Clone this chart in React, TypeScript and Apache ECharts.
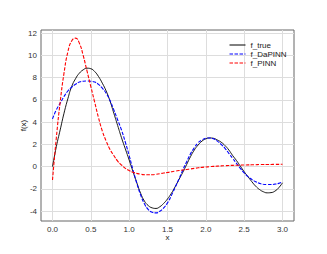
import React, { useEffect, useRef } from "react";
import * as echarts from "echarts";

const xs = [0, 0.05, 0.1, 0.15, 0.2, 0.25, 0.3, 0.35, 0.4, 0.45, 0.5, 0.55, 0.6, 0.65, 0.7, 0.75, 0.8, 0.85, 0.9, 0.95, 1.0, 1.05, 1.1, 1.15, 1.2, 1.25, 1.3, 1.35, 1.4, 1.45, 1.5, 1.55, 1.6, 1.65, 1.7, 1.75, 1.8, 1.85, 1.9, 1.95, 2.0, 2.05, 2.1, 2.15, 2.2, 2.25, 2.3, 2.35, 2.4, 2.45, 2.5, 2.55, 2.6, 2.65, 2.7, 2.75, 2.8, 2.85, 2.9, 2.95, 3.0];

const fTrue = [0, 1.8, 3.3, 4.8, 6.1, 7.2, 7.9, 8.4, 8.7, 8.85, 8.8, 8.55, 8.1, 7.5, 6.8, 5.9, 4.8, 3.7, 2.6, 1.6, 0.6, -0.45, -1.45, -2.4, -3.1, -3.5, -3.7, -3.75, -3.6, -3.3, -2.9, -2.4, -1.8, -1.15, -0.5, 0.2, 0.9, 1.5, 1.95, 2.3, 2.5, 2.58, 2.55, 2.4, 2.2, 1.9, 1.5, 1.0, 0.55, 0.05, -0.45, -0.9, -1.35, -1.75, -2.05, -2.25, -2.35, -2.33, -2.2, -1.9, -1.45];

const fDaPINN = [4.3, 5.1, 5.7, 6.3, 6.8, 7.15, 7.4, 7.6, 7.68, 7.7, 7.68, 7.6, 7.4, 7.05, 6.6, 5.95, 5.1, 4.2, 3.3, 2.2, 1.0, -0.3, -1.5, -2.55, -3.35, -3.85, -4.1, -4.15, -4.0, -3.7, -3.25, -2.6, -1.85, -1.1, -0.3, 0.45, 1.15, 1.7, 2.15, 2.4, 2.55, 2.58, 2.5, 2.3, 2.0, 1.65, 1.2, 0.75, 0.3, -0.15, -0.55, -0.9, -1.15, -1.35, -1.5, -1.58, -1.6, -1.6, -1.57, -1.5, -1.35];

const fPINN = [-1.2, 2.6, 5.8, 8.4, 10.3, 11.3, 11.55, 11.1, 10.0, 8.6, 7.2, 5.8, 4.4, 3.2, 2.3, 1.55, 1.0, 0.5, 0.15, -0.15, -0.35, -0.5, -0.6, -0.68, -0.72, -0.73, -0.72, -0.68, -0.63, -0.57, -0.52, -0.46, -0.4, -0.35, -0.3, -0.25, -0.2, -0.15, -0.1, -0.06, -0.03, 0.0, 0.03, 0.05, 0.07, 0.09, 0.11, 0.12, 0.13, 0.14, 0.15, 0.16, 0.17, 0.18, 0.19, 0.19, 0.2, 0.2, 0.21, 0.21, 0.22];

const xTicks = [0, 0.5, 1.0, 1.5, 2.0, 2.5, 3.0];
const yTicks = [-4, -2, 0, 2, 4, 6, 8, 10, 12];

const FONT = "'Liberation Sans', Arial, sans-serif";

export default function App() {
  const ref = useRef<HTMLDivElement>(null);
  useEffect(() => {
    document.body.style.margin = "0";
    const chart = echarts.init(ref.current!, null, { renderer: "svg" });
    const pair = (ys: number[]) => xs.map((x, i) => [x, ys[i]]);
    chart.setOption({
      animation: false,
      textStyle: { fontFamily: FONT },
      grid: {
        left: 41,
        top: 30,
        right: 33,
        bottom: 33,
        show: true,
        borderColor: "#666",
        borderWidth: 1,
        backgroundColor: "transparent",
      },
      legend: {
        orient: "vertical",
        left: 224,
        top: 36,
        itemWidth: 16,
        itemHeight: 8,
        itemGap: 1,
        itemStyle: { opacity: 0 },
        lineStyle: { width: 1 },
        textStyle: { fontSize: 8, color: "#222", fontFamily: FONT },
        data: ["f_true", "f_DaPINN", "f_PINN"],
      },
      xAxis: {
        type: "value",
        min: -0.15,
        max: 3.15,
        name: "x",
        nameLocation: "middle",
        nameGap: 12,
        nameMoveOverlap: false,
        nameTextStyle: { fontSize: 8, color: "#222" },
        axisLine: { show: false },
        axisTick: { show: false, customValues: xTicks },
        axisLabel: {
          customValues: xTicks,
          fontSize: 8,
          color: "#333",
          margin: 4,
          formatter: (v: number) => v.toFixed(1),
        },
        splitLine: { show: true, lineStyle: { color: "#dddddd", width: 1 } },
      },
      yAxis: {
        type: "value",
        min: -4.88,
        max: 12.28,
        name: "f(x)",
        nameLocation: "middle",
        nameGap: 14,
        nameMoveOverlap: false,
        nameTextStyle: { fontSize: 8, color: "#222" },
        axisLine: { show: false },
        axisTick: { show: false, customValues: yTicks },
        axisLabel: {
          customValues: yTicks,
          fontSize: 8,
          color: "#333",
          margin: 4,
          formatter: (v: number) => String(Math.round(v)),
        },
        splitLine: { show: true, lineStyle: { color: "#dddddd", width: 1 } },
      },
      series: [
        {
          name: "f_true",
          type: "line",
          data: pair(fTrue),
          showSymbol: false,
          symbol: "none",
          smooth: true,
          lineStyle: { color: "#000000", width: 0.9 },
          itemStyle: { color: "#000000" },
        },
        {
          name: "f_DaPINN",
          type: "line",
          data: pair(fDaPINN),
          showSymbol: false,
          symbol: "none",
          smooth: true,
          lineStyle: { color: "#0000ff", width: 1.1, type: [3.5, 1.5] },
          itemStyle: { color: "#0000ff" },
        },
        {
          name: "f_PINN",
          type: "line",
          data: pair(fPINN),
          showSymbol: false,
          symbol: "none",
          smooth: true,
          lineStyle: { color: "#ff0000", width: 1.1, type: [3.5, 1.5] },
          itemStyle: { color: "#ff0000" },
        },
      ],
    });
    return () => chart.dispose();
  }, []);
  return <div ref={ref} style={{ width: 327, height: 254 }} />;
}
